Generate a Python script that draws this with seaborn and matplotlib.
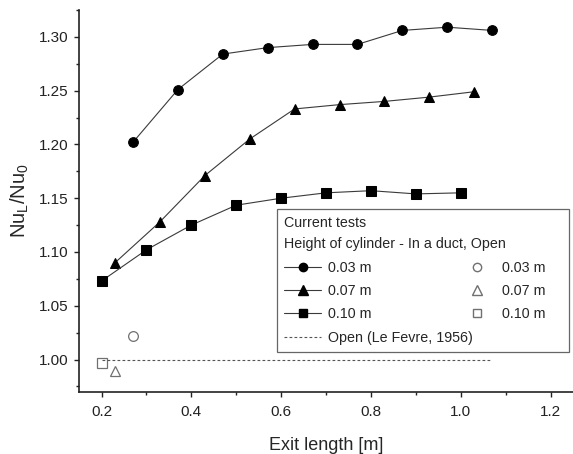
import matplotlib
matplotlib.use("Agg")
import matplotlib.pyplot as plt
from matplotlib.lines import Line2D
from matplotlib.ticker import MultipleLocator, FormatStrFormatter
import seaborn as sns
import pandas as pd

# Data
x_003 = [0.27, 0.37, 0.47, 0.57, 0.67, 0.77, 0.87, 0.97, 1.07]
y_003 = [1.202, 1.251, 1.284, 1.290, 1.293, 1.293, 1.306, 1.309, 1.306]
x_007 = [0.23, 0.33, 0.43, 0.53, 0.63, 0.73, 0.83, 0.93, 1.03]
y_007 = [1.090, 1.128, 1.171, 1.205, 1.233, 1.237, 1.240, 1.244, 1.249]
x_010 = [0.20, 0.30, 0.40, 0.50, 0.60, 0.70, 0.80, 0.90, 1.00]
y_010 = [1.073, 1.102, 1.125, 1.1435, 1.150, 1.155, 1.157, 1.154, 1.155]
open_x = [0.27, 0.23, 0.20]
open_y = [1.022, 0.989, 0.997]
open_labels = ["0.03 m", "0.07 m", "0.10 m"]
lefevre_x = [0.20, 1.07]
lefevre_y = [1.0, 1.0]
x_ticks = [0.2, 0.4, 0.6, 0.8, 1.0, 1.2]
x_ticklabels = ["0.2", "0.4", "0.6", "0.8", "1.0", "1.2"]

sns.set_theme(style="ticks")
plt.rcParams["font.family"] = ["Liberation Sans", "DejaVu Sans"]
plt.rcParams["mathtext.default"] = "regular"

fig = plt.figure(figsize=(5.73, 4.54), dpi=100)
ax = fig.add_axes([0.138, 0.137, 0.862, 0.841])

line_col = "#3a3a3a"
markers = ["o", "^", "s"]
sizes = [7, 7.5, 6.5]
series = [(x_003, y_003), (x_007, y_007), (x_010, y_010)]
for (xs, ys), m, ms in zip(series, markers, sizes):
    df = pd.DataFrame({"x": xs, "y": ys})
    sns.lineplot(data=df, x="x", y="y", ax=ax, color=line_col, lw=0.8,
                 marker=m, markersize=ms, markerfacecolor="black",
                 markeredgecolor="black", sort=False, estimator=None)

for xv, yv, m, ms in zip(open_x, open_y, markers, sizes):
    ax.plot([xv], [yv], linestyle="none", marker=m, markersize=ms,
            markerfacecolor="white", markeredgecolor="#707070", markeredgewidth=0.9)

lf = pd.DataFrame({"x": lefevre_x, "y": lefevre_y})
sns.lineplot(data=lf, x="x", y="y", ax=ax, color="#555555", lw=0.8,
             linestyle=(0, (2.5, 2)), estimator=None)

ax.set_xlim(0.15, 1.25)
ax.set_ylim(0.97, 1.325)
ax.set_xticks(x_ticks)
ax.set_xticklabels(x_ticklabels)
ax.xaxis.set_minor_locator(MultipleLocator(0.1))
ax.yaxis.set_major_locator(MultipleLocator(0.05))
ax.yaxis.set_minor_locator(MultipleLocator(0.025))
ax.yaxis.set_major_formatter(FormatStrFormatter("%.2f"))
ax.tick_params(which="major", direction="out", length=3.5, width=1,
               labelsize=11, colors="#222222", labelcolor="#222222")
ax.tick_params(which="minor", direction="out", length=2.2, width=1, colors="#222222")
ax.tick_params(axis="x", which="major", pad=6)
ax.tick_params(axis="y", which="major", pad=4)
for s in ["top", "right"]:
    ax.spines[s].set_visible(False)
for s in ["left", "bottom"]:
    ax.spines[s].set_linewidth(1.2)
    ax.spines[s].set_color("#222222")

ax.set_xlabel("Exit length [m]", fontsize=13, labelpad=13)
ax.set_ylabel("Nu$_L$/Nu$_0$", fontsize=14.5, labelpad=6)

handles = [
    Line2D([], [], color=line_col, lw=0.8, marker="o", markersize=6, markerfacecolor="black", markeredgecolor="black"),
    Line2D([], [], color=line_col, lw=0.8, marker="^", markersize=6.5, markerfacecolor="black", markeredgecolor="black"),
    Line2D([], [], color=line_col, lw=0.8, marker="s", markersize=5.5, markerfacecolor="black", markeredgecolor="black"),
    Line2D([], [], color="#555555", lw=0.8, linestyle=(0, (2.5, 2))),
    Line2D([], [], linestyle="none", marker="o", markersize=6, markerfacecolor="white", markeredgecolor="#707070"),
    Line2D([], [], linestyle="none", marker="^", markersize=6.5, markerfacecolor="white", markeredgecolor="#707070"),
    Line2D([], [], linestyle="none", marker="s", markersize=5.5, markerfacecolor="white", markeredgecolor="#707070"),
    Line2D([], [], linestyle="none"),
]
pad = "\u2007" * 2
labels = ["0.03 m", "0.07 m", "0.10 m", "Open (Le Fevre, 1956)",
          "0.03 m" + pad, "0.07 m" + pad, "0.10 m" + pad, ""]
leg = ax.legend(handles, labels, ncol=2, loc="lower left",
                bbox_to_anchor=(0.401, 0.105), borderaxespad=0,
                frameon=True, fancybox=False,
                edgecolor="#666666", framealpha=1, fontsize=10.3,
                title="Current tests\nHeight of cylinder - In a duct, Open",
                title_fontsize=10.3, alignment="left", handlelength=2.6,
                handletextpad=0.45, columnspacing=-1.0, labelspacing=0.65,
                borderpad=0.5)
leg.get_frame().set_linewidth(0.9)
leg.get_title().set_linespacing(1.7)

fig.savefig("out.png", dpi=100)
